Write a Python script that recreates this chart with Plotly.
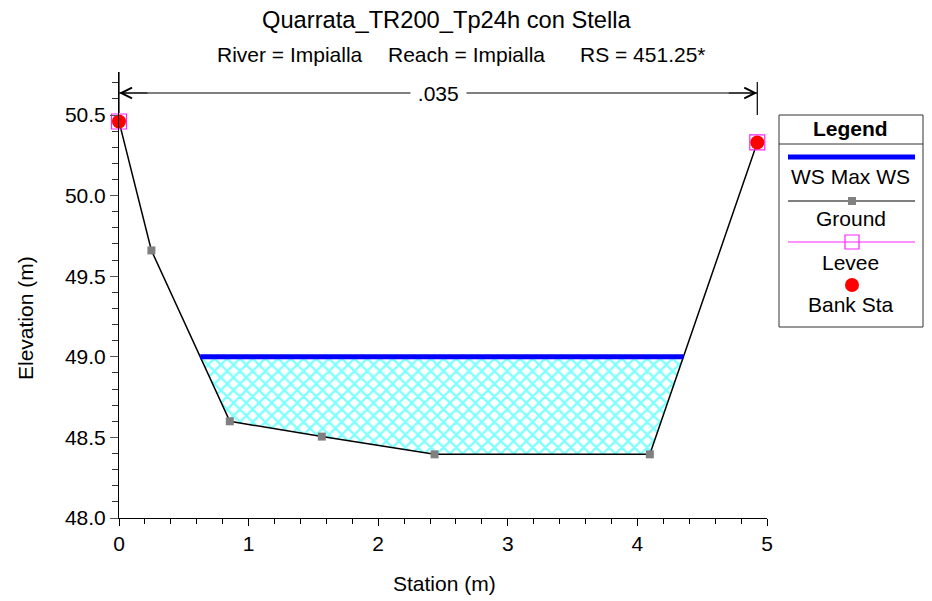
import numpy as np
import plotly.graph_objects as go

# ---------------- data ----------------
title_text = "Quarrata_TR200_Tp24h con Stella"
subtitle_parts = ["River = Impialla", "Reach = Impialla", "RS = 451.25*"]

ground_station = [0.0, 0.25, 0.855, 1.565, 2.435, 4.096, 4.925]
ground_elev = [50.46, 49.66, 48.60, 48.505, 48.395, 48.395, 50.33]

ws_elev = 49.0

levee_station = [0.0, 4.925]
levee_elev = [50.46, 50.33]

bank_station = [0.0, 4.925]
bank_elev = [50.46, 50.33]

manning_n = ".035"
manning_from = 0.0
manning_to = 4.925

x_range = [0, 5]
y_range = [48.0, 50.767]

legend_labels = ["WS Max WS", "Ground", "Levee", "Bank Sta"]

# ---------------- geometry helpers ----------------
# The page body has an 8px margin; lay out in target-screen pixels and shift.
OFF = 8
W, H = 932 - OFF, 601 - OFF
PL, PR, PT, PB = 119, 767, 72, 518   # plot area in target-screen pixels
PW, PH = PR - PL, PB - PT

def fx(px):  # screen pixel x -> paper x
    return (px - PL) / PW

def fy(py):  # screen pixel y -> paper y
    return (PB - py) / PH

def crossings(xs, ys, level):
    out = []
    for i in range(len(xs) - 1):
        y0, y1 = ys[i] - level, ys[i + 1] - level
        if y0 * y1 < 0:
            t = y0 / (y0 - y1)
            out.append(xs[i] + t * (xs[i + 1] - xs[i]))
    return out

cr = crossings(ground_station, ground_elev, ws_elev)
xl, xr = cr[0], cr[-1]
poly_x = [xl] + [s for s, e in zip(ground_station, ground_elev) if xl < s < xr] + [xr]
poly_y = [ws_elev] + [e for s, e in zip(ground_station, ground_elev) if xl < s < xr] + [ws_elev]

FONT = "Liberation Sans, Arial, sans-serif"
FS = 21

fig = go.Figure()

# water fill (cross-hatched)
fig.add_trace(go.Scatter(
    x=poly_x, y=poly_y, mode="lines", fill="toself",
    line=dict(width=0, color="rgba(0,0,0,0)"),
    fillcolor="rgba(0,0,0,0)",
    fillpattern=dict(shape="x", fgcolor="#00ffff", bgcolor="white", size=9, solidity=0.45),
    showlegend=False, hoverinfo="skip"))

# ground
fig.add_trace(go.Scatter(
    x=ground_station, y=ground_elev, mode="lines+markers",
    line=dict(color="black", width=1.5),
    marker=dict(symbol="square", size=8, color="#808080"),
    cliponaxis=False, showlegend=False))

# water surface
fig.add_trace(go.Scatter(
    x=[xl, xr], y=[ws_elev, ws_elev], mode="lines",
    line=dict(color="#0000ff", width=5), showlegend=False))

# levee
fig.add_trace(go.Scatter(
    x=levee_station, y=levee_elev, mode="markers",
    marker=dict(symbol="square-open", size=15, color="#ff22ff", line=dict(width=1.2)),
    cliponaxis=False, showlegend=False))

# bank stations
fig.add_trace(go.Scatter(
    x=bank_station, y=bank_elev, mode="markers",
    marker=dict(symbol="circle", size=14, color="#ff0000"),
    cliponaxis=False, showlegend=False))

# ---------------- custom legend (shapes in paper coords) ----------------
LX0, LX1, LY0, LY1 = 779, 923, 115, 327
lcx = 852
shapes = [
    dict(type="rect", xref="paper", yref="paper", x0=fx(LX0), x1=fx(LX1), y0=fy(LY0), y1=fy(LY1),
         line=dict(color="#333333", width=1), fillcolor="white", layer="below"),
    dict(type="line", xref="paper", yref="paper", x0=fx(LX0), x1=fx(LX1), y0=fy(144), y1=fy(144),
         line=dict(color="#333333", width=1)),
    # WS
    dict(type="line", xref="paper", yref="paper", x0=fx(788), x1=fx(915), y0=fy(157), y1=fy(157),
         line=dict(color="#0000ff", width=5)),
    # Ground
    dict(type="line", xref="paper", yref="paper", x0=fx(788), x1=fx(915), y0=fy(201), y1=fy(201),
         line=dict(color="black", width=1)),
    dict(type="rect", xref="paper", yref="paper", x0=fx(lcx - 4), x1=fx(lcx + 4), y0=fy(197), y1=fy(205),
         line=dict(width=0), fillcolor="#808080"),
    # Levee
    dict(type="line", xref="paper", yref="paper", x0=fx(788), x1=fx(915), y0=fy(242), y1=fy(242),
         line=dict(color="#ff22ff", width=1)),
    dict(type="rect", xref="paper", yref="paper", x0=fx(lcx - 7), x1=fx(lcx + 7), y0=fy(235), y1=fy(249),
         line=dict(color="#ff22ff", width=1.2)),
    # Bank Sta
    dict(type="circle", xref="paper", yref="paper", x0=fx(lcx - 7), x1=fx(lcx + 7), y0=fy(278), y1=fy(292),
         line=dict(width=0), fillcolor="#ff0000"),
]

annotations = [
    dict(text="<b>Legend</b>", xref="paper", yref="paper", x=fx(851), y=fy(128),
         xanchor="center", yanchor="middle", showarrow=False,
         font=dict(size=FS, color="black", family=FONT)),
]
for lab, yy in zip(legend_labels, [176, 219, 262, 304]):
    annotations.append(dict(text=lab, xref="paper", yref="paper", x=fx(851), y=fy(yy),
                            xanchor="center", yanchor="middle", showarrow=False,
                            font=dict(size=FS, color="black", family=FONT)))

# ---------------- Manning's n annotation ----------------
ya = fy(93)
shapes += [
    dict(type="line", xref="x", yref="paper", x0=manning_from, x1=manning_to, y0=ya, y1=ya,
         line=dict(color="black", width=1)),
    dict(type="line", xref="x", yref="paper", x0=manning_from, x1=manning_from, y0=fy(72), y1=fy(113),
         line=dict(color="black", width=1.2)),
    dict(type="line", xref="x", yref="paper", x0=manning_to, x1=manning_to, y0=fy(82), y1=fy(115),
         line=dict(color="black", width=1.2)),
]
annotations += [
    dict(text="", x=manning_from, y=ya, xref="x", yref="paper", ax=30, ay=0,
         showarrow=True, arrowhead=5, arrowsize=2.1, arrowwidth=1, arrowcolor="black", standoff=0),
    dict(text="", x=manning_to, y=ya, xref="x", yref="paper", ax=-30, ay=0,
         showarrow=True, arrowhead=5, arrowsize=2.1, arrowwidth=1, arrowcolor="black", standoff=0),
    dict(text="\u00a0" + manning_n + "\u00a0", x=(manning_from + manning_to) / 2, y=ya,
         xref="x", yref="paper", xanchor="center", yanchor="middle", showarrow=False,
         bgcolor="white", borderpad=1,
         font=dict(size=FS, color="black", family=FONT)),
]

# ---------------- titles ----------------
annotations += [
    dict(text=title_text, xref="paper", yref="paper", x=fx(447), y=fy(20),
         xanchor="center", yanchor="middle", showarrow=False,
         font=dict(size=23.7, color="black", family=FONT)),
    dict(text="Station (m)", xref="paper", yref="paper", x=fx(444), y=fy(583),
         xanchor="center", yanchor="middle", showarrow=False,
         font=dict(size=FS, color="black", family=FONT)),
    dict(text="Elevation (m)", xref="paper", yref="paper", x=fx(25), y=fy(318),
         xanchor="center", yanchor="middle", showarrow=False,
         textangle=-90, font=dict(size=FS, color="black", family=FONT)),
]
for txt, cx in zip(subtitle_parts, [289.5, 466, 643]):
    annotations.append(dict(text=txt, xref="paper", yref="paper", x=fx(cx), y=fy(54),
                            xanchor="center", yanchor="middle", showarrow=False,
                            font=dict(size=21, color="black", family=FONT)))

fig.update_layout(
    width=W, height=H,
    margin=dict(l=PL - OFF, r=W - (PR - OFF), t=PT - OFF, b=H - (PB - OFF), autoexpand=False),
    paper_bgcolor="white", plot_bgcolor="white",
    font=dict(family=FONT, color="black"),
    showlegend=False,
    shapes=shapes, annotations=annotations,
    xaxis=dict(range=x_range, dtick=1, tick0=0,
               showline=True, linecolor="black", linewidth=1,
               ticks="outside", ticklen=7, tickcolor="black",
               minor=dict(dtick=0.2, ticks="outside", ticklen=5, tickcolor="black", showgrid=False),
               showgrid=False, zeroline=False, automargin=False,
               tickfont=dict(size=FS, family=FONT, color="black")),
    yaxis=dict(range=y_range, dtick=0.5, tick0=48,
               tickformat=".1f",
               showline=True, linecolor="black", linewidth=1,
               ticks="outside", ticklen=8, tickcolor="#555555",
               minor=dict(dtick=0.1, ticks="outside", ticklen=6, tickcolor="#333333", showgrid=False),
               showgrid=False, zeroline=False, automargin=False,
               tickfont=dict(size=FS, family=FONT, color="black")),
)

fig.write_html("out.html")
